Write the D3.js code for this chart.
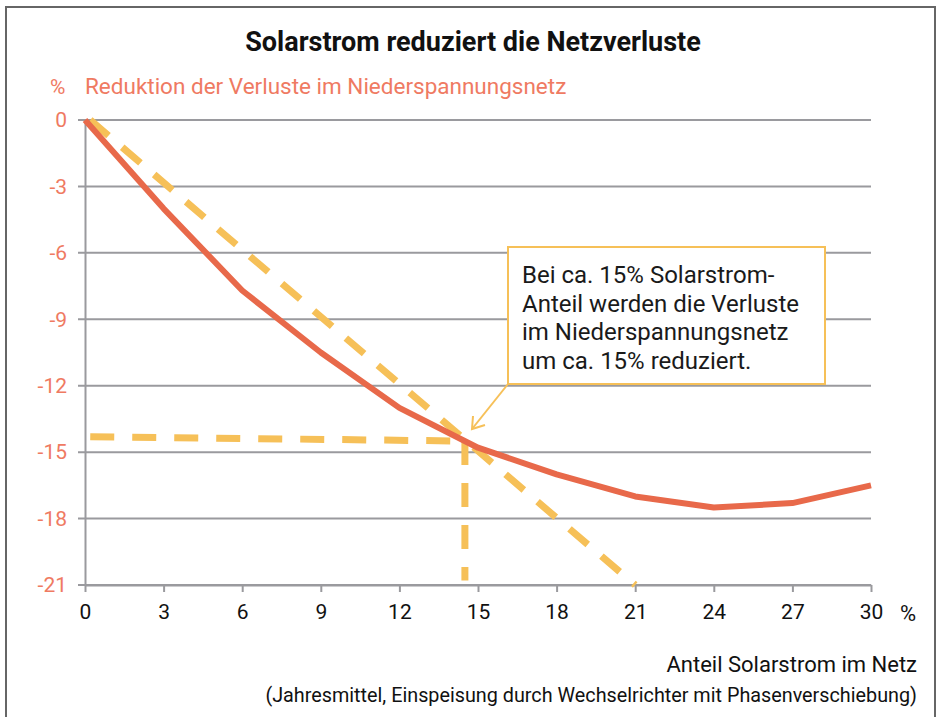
<!DOCTYPE html>
<html lang="de">
<head>
<meta charset="utf-8">
<title>Solarstrom reduziert die Netzverluste</title>
<script src="https://d3js.org/d3.v7.min.js"></script>
<style>
  body { margin: 0; background: #fff; }
  text { font-family: Roboto, "DejaVu Sans", sans-serif; }
</style>
</head>
<body>
<div id="chart"></div>
<script>
// data
var xTicks = [0, 3, 6, 9, 12, 15, 18, 21, 24, 27, 30];
var yTicks = [0, -3, -6, -9, -12, -15, -18, -21];
var anteil = [0, 3, 6, 9, 12, 15, 18, 21, 24, 27, 30];
var reduktion = [0, -4, -7.7, -10.5, -13, -14.8, -16, -17, -17.5, -17.3, -16.5];
var diagonal = [[0.2, 0], [21, -21]];
var hilfH = [[0.2, -14.3], [14.5, -14.5]];
var hilfV = [[14.5, -14.5], [14.5, -20.8]];
var notiz = ["Bei ca. 15% Solarstrom-", "Anteil werden die Verluste",
             "im Niederspannungsnetz", "um ca. 15% reduziert."];

var W = 940, H = 717;
var margin = {top: 120, left: 85, right: W - 871, bottom: H - 585};
var width = W - margin.left - margin.right,
    height = H - margin.top - margin.bottom;

var orange = "#e8694a", gelb = "#f6c058", grau = "#9a9a9e", lachs = "#ef7a62";

var svg = d3.select("#chart").append("svg")
    .attr("width", W).attr("height", H);

// frame
svg.append("path")
    .attr("d", "M6," + (H + 2) + "V7H935V" + (H + 2))
    .attr("fill", "none").attr("stroke", "#666").attr("stroke-width", 2);

svg.append("text")
    .attr("x", 473).attr("y", 51)
    .attr("text-anchor", "middle")
    .attr("font-size", 27).attr("font-weight", "bold")
    .attr("fill", "#111")
    .text("Solarstrom reduziert die Netzverluste");

svg.append("text").attr("x", 50).attr("y", 94)
    .attr("font-size", 21).attr("fill", lachs).text("%");
svg.append("text").attr("x", 85).attr("y", 94)
    .attr("font-size", 22.5).attr("fill", lachs)
    .text("Reduktion der Verluste im Niederspannungsnetz");

var g = svg.append("g")
    .attr("transform", "translate(" + margin.left + "," + margin.top + ")");

var x = d3.scaleLinear().domain([0, 30]).range([0, width]);
var y = d3.scaleLinear().domain([0, -21]).range([0, height]);

// grid lines
g.append("g").selectAll("line").data(yTicks).join("line")
    .attr("x1", -7).attr("x2", width)
    .attr("y1", function(d) { return y(d); })
    .attr("y2", function(d) { return y(d); })
    .attr("stroke", grau).attr("stroke-width", 2);

// y axis (hyphen instead of unicode minus)
var yAxis = g.append("g")
    .call(d3.axisLeft(y).tickValues(yTicks).tickSize(0).tickPadding(18)
      .tickFormat(function(d) { return String(d); }));
yAxis.select(".domain").attr("stroke", grau).attr("stroke-width", 2);
yAxis.selectAll("text").attr("font-size", 21).attr("fill", lachs)
    .attr("font-family", "Roboto, sans-serif");

// x axis
var xAxis = g.append("g")
    .attr("transform", "translate(0," + height + ")")
    .call(d3.axisBottom(x).tickValues(xTicks).tickSize(7).tickPadding(12).tickSizeOuter(0));
xAxis.select(".domain").attr("stroke", grau).attr("stroke-width", 2);
xAxis.selectAll(".tick line").attr("stroke", grau).attr("stroke-width", 2);
xAxis.selectAll("text").attr("font-size", 21).attr("fill", "#111")
    .attr("font-family", "Roboto, sans-serif");

var line = d3.line().x(function(d) { return x(d[0]); }).y(function(d) { return y(d[1]); });

// dashed helper lines
[diagonal, hilfH, hilfV].forEach(function(pts) {
  g.append("path").datum(pts)
    .attr("d", line)
    .attr("fill", "none")
    .attr("stroke", gelb).attr("stroke-width", 7)
    .attr("stroke-dasharray", "24,18");
});

// main line
g.append("path")
    .datum(d3.zip(anteil, reduktion))
    .attr("d", line)
    .attr("fill", "none")
    .attr("stroke", orange).attr("stroke-width", 6)
    .attr("stroke-linejoin", "round");

// annotation box
var box = {x0: 508, y0: 247, x1: 825, y1: 384};
svg.append("rect")
    .attr("x", box.x0).attr("y", box.y0)
    .attr("width", box.x1 - box.x0).attr("height", box.y1 - box.y0)
    .attr("fill", "#fff").attr("stroke", gelb).attr("stroke-width", 2);
svg.append("g").selectAll("text").data(notiz).join("text")
    .attr("x", 522)
    .attr("y", function(d, i) { return 283 + i * 28.5; })
    .attr("font-size", 24).attr("fill", "#1a1a1a")
    .text(function(d) { return d; });

// arrow
var tipX = 472, tipY = 429;
svg.append("line")
    .attr("x1", box.x0).attr("y1", box.y1)
    .attr("x2", tipX).attr("y2", tipY)
    .attr("stroke", gelb).attr("stroke-width", 2);
svg.append("path")
    .attr("d", "M" + (tipX + 1) + "," + (tipY - 13) + "L" + tipX + "," + tipY + "L" + (tipX + 13) + "," + (tipY - 4))
    .attr("fill", "none").attr("stroke", gelb).attr("stroke-width", 2);

// x axis unit and titles
svg.append("text").attr("x", 900).attr("y", 621)
    .attr("font-size", 22).attr("fill", "#111").text("%");
svg.append("text").attr("x", 917).attr("y", 672)
    .attr("text-anchor", "end").attr("font-size", 22).attr("fill", "#111")
    .text("Anteil Solarstrom im Netz");
svg.append("text").attr("x", 917).attr("y", 702)
    .attr("text-anchor", "end").attr("font-size", 19.8).attr("fill", "#111")
    .text("(Jahresmittel, Einspeisung durch Wechselrichter mit Phasenverschiebung)");
</script>
</body>
</html>
